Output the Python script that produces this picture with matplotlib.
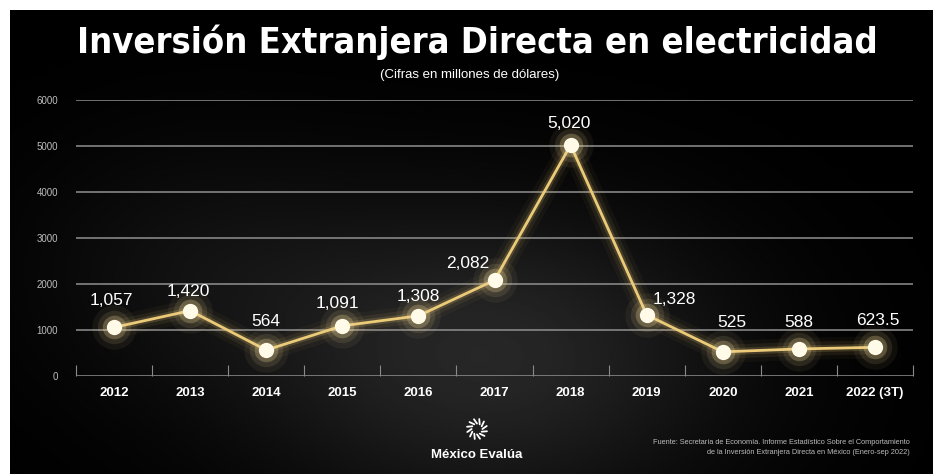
import matplotlib.pyplot as plt
import numpy as np

years = ["2012", "2013", "2014", "2015", "2016", "2017", "2018", "2019", "2020", "2021", "2022 (3T)"]
values = [1057, 1420, 564, 1091, 1308, 2082, 5020, 1328, 525, 588, 623.5]
labels = ["1,057", "1,420", "564", "1,091", "1,308", "2,082", "5,020", "1,328", "525", "588", "623.5"]
y_ticks = [0, 1000, 2000, 3000, 4000, 5000, 6000]

# desplazamiento de las etiquetas (pixeles)
label_offsets = [(-3, 27), (-2, 19), (0, 29), (-5, 22), (0, 19), (-27, 17),
                 (-2, 22), (28, 15), (9, 29), (0, 26), (3, 27)]

plt.rcParams['font.family'] = ['Liberation Sans', 'DejaVu Sans']

W, H = 933, 474
fig = plt.figure(figsize=(W / 100, H / 100), dpi=100, facecolor='white')

# fondo negro con un brillo suave
bg = fig.add_axes([10 / W, 0, 1 - 10 / W, 1 - 10 / H])
yy, xx = np.mgrid[0:1:300j, 0:1:600j]
glow = 0.15 * np.exp(-(((xx - 0.52) / 0.26) ** 2 + ((yy - 0.25) / 0.33) ** 2))
glow += 0.05 * np.exp(-(((xx - 0.2) / 0.2) ** 2 + ((yy - 0.45) / 0.3) ** 2))
bg.imshow(glow, cmap='gray', vmin=0, vmax=1, extent=[0, 1, 0, 1], aspect='auto', origin='lower')
bg.set_axis_off()

ax = fig.add_axes([76 / W, 1 - 376 / H, (913 - 76) / W, (376 - 100) / H])
ax.set_facecolor('none')
x = np.arange(len(years))

for y in y_ticks:
    ax.axhline(y, color='#909090', lw=1.1, zorder=1)

# linea con resplandor
gold = '#ebca78'
for lw, a in [(16, 0.04), (10, 0.08), (5, 0.17)]:
    ax.plot(x, values, color=gold, lw=lw, alpha=a, solid_capstyle='round', zorder=2)
ax.plot(x, values, color=gold, lw=2, zorder=3)

for ms, a in [(32, 0.06), (24, 0.11), (17, 0.24)]:
    ax.plot(x, values, 'o', ms=ms, color='#f5dc9a', alpha=a, mec='none', zorder=4)
ax.plot(x, values, 'o', ms=11, color='#fffbe8', mec='none', zorder=5)

for xi, v, lab, (dx, dy) in zip(x, values, labels, label_offsets):
    ax.annotate(lab, (xi, v), xytext=(dx, dy), textcoords='offset pixels',
                ha='center', va='center', color='white', fontsize=12.5,
                zorder=6, annotation_clip=False)

ax.set_xlim(-0.5, len(years) - 0.5)
ax.set_ylim(0, 6000)
ax.set_yticks(y_ticks)
ax.set_yticklabels([str(t) for t in y_ticks], color='#bdbdbd', fontsize=7)
ax.tick_params(axis='y', length=0, pad=13)

ax.set_xticks(np.arange(len(years) + 1) - 0.5)
ax.set_xticklabels([])
ax.tick_params(axis='x', which='major', direction='in', length=8, color='#8a8a8a', width=0.8)
ax.set_xticks(x, minor=True)
ax.set_xticklabels(years, minor=True, color='white', fontsize=9.5, fontweight='bold')
ax.tick_params(axis='x', which='minor', length=0, pad=8)
for s in ax.spines.values():
    s.set_visible(False)

fig.text(477 / W, 1 - 42 / H, "Inversión Extranjera Directa en electricidad", ha='center', va='center',
         color='white', fontsize=26, fontweight='bold', fontstretch='condensed',
         family=['DejaVu Sans'])
fig.text(470 / W, 1 - 75 / H, "(Cifras en millones de dólares)", ha='center', va='center',
         color='white', fontsize=9.5)

# logo
lx, ly = 477 / W, 1 - 429 / H
logo = fig.add_axes([lx - 12 / W, ly - 12 / H, 24 / W, 24 / H])
ang = np.linspace(0, 2 * np.pi, 12, endpoint=False)
for a in ang:
    logo.plot([0.45 * np.cos(a), 0.85 * np.cos(a + 0.3)], [0.45 * np.sin(a), 0.85 * np.sin(a + 0.3)],
              color='white', lw=1.3, solid_capstyle='round')
logo.set_xlim(-1, 1)
logo.set_ylim(-1, 1)
logo.set_axis_off()
fig.text(lx, 1 - 455 / H, "México Evalúa", ha='center', va='center', color='white',
         fontsize=9.5, fontweight='bold')

fig.text(910 / W, 1 - 443 / H,
         "Fuente: Secretaría de Economía. Informe Estadístico Sobre el Comportamiento",
         ha='right', va='center', color='#bbbbbb', fontsize=5.3)
fig.text(910 / W, 1 - 453 / H,
         "de la Inversión Extranjera Directa en México (Enero-sep 2022)",
         ha='right', va='center', color='#bbbbbb', fontsize=5.3)

fig.savefig('out.png', dpi=100, facecolor='white')
